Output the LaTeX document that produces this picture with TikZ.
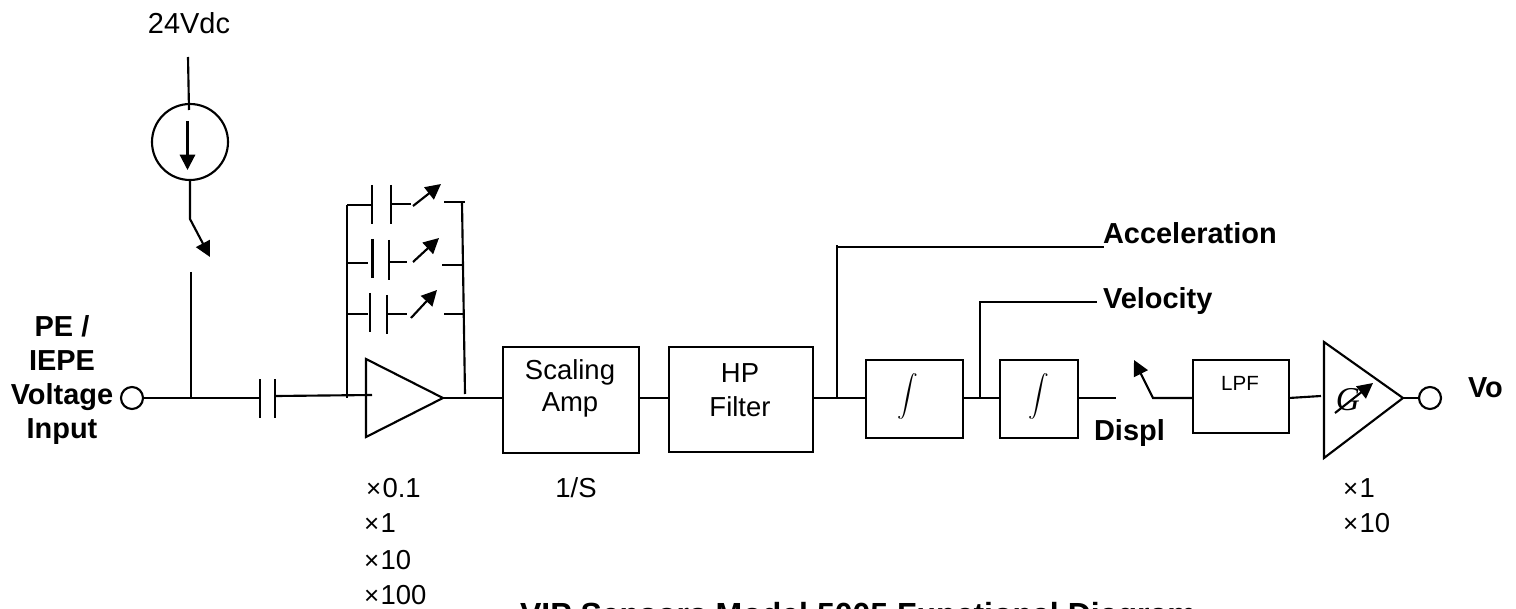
\documentclass[tikz,border=0pt]{standalone}
\usepackage{fontspec}
\setmainfont{Liberation Sans}
\newfontfamily\gainfont{Liberation Serif}
\usetikzlibrary{arrows.meta}
\begin{document}
\begin{tikzpicture}[x=0.75pt,y=-0.75pt,line width=1.6pt]
  \tikzset{lbl/.style={font=\fontsize{20.6}{24}\selectfont, inner sep=0pt}}
  \tikzset{blbl/.style={font=\fontsize{21.7}{26}\selectfont\bfseries, inner sep=0pt}}
  \tikzset{gain/.style={lbl, anchor=west}}
  \tikzset{block/.style={draw, anchor=north west, inner sep=0pt}}
  \tikzset{port/.style={draw, circle, inner sep=0pt, minimum size=16.5pt}}
  \tikzset{sw/.style={-{Triangle[length=11.5pt,width=11.5pt]}}}
  \newcommand{\xmul}{{\fontsize{19.5}{19.5}\selectfont\symbol{"00D7}}\hspace{1pt}}
  \useasboundingbox (0,0) rectangle (1516,609);
  % terminals
  \node[port] (In) at (132,398) {};
  \node[port] (Out) at (1430,398) {};
  \node[draw, circle, inner sep=0pt, minimum size=57pt] (Src) at (190,142) {};
  % blocks
  \node[block, minimum width=102pt, minimum height=79.5pt] (Scale) at (502,346) {};
  \node[block, minimum width=108pt, minimum height=79pt] (HP) at (668,346) {};
  \node[block, minimum width=72.75pt, minimum height=58.5pt] (Int1) at (865,359) {};
  \node[block, minimum width=58.5pt, minimum height=58.5pt] (Int2) at (999,359) {};
  \node[block, minimum width=72pt, minimum height=54.75pt] (LPF) at (1192,359) {};
  % junctions
  \coordinate (j1) at (191,398);
  \coordinate (j4) at (837,398);
  \coordinate (j5) at (980,398);
  % supply and input switch
  \coordinate (t0) at (188,57);
  \coordinate (t1) at (189,110);
  \coordinate (a0) at (187.5,121);
  \coordinate (a1) at (187.5,170);
  \coordinate (k0) at (190,219);
  \coordinate (k1) at (210,257);
  \coordinate (k2) at (191,272);
  \draw (t0) -- (t1);
  \draw[sw] (a0) -- (a1);
  \draw[sw] (Src.south) -- (k0) -- (k1);
  \draw (k2) -- (j1);
  % input coupling cap
  \coordinate (c1) at (260,398);
  \coordinate (c2) at (276,396);
  \draw (In) -- (c1);
  \draw (260,379) -- (260,418);
  \draw (275,379) -- (275,418);
  \draw (c2) -- (372,395);
  % gain network
  \coordinate (b0) at (347,205);
  \coordinate (b1) at (462,202);
  \draw (b0) -- (347,398);
  \draw (b1) -- (465,394);
  \draw (b0) -- (372,205);
  \draw (372,185) -- (372,224);
  \draw (391,185) -- (391,224);
  \draw (391,204) -- (411,204);
  \draw[sw] (413,206) -- (441,184);
  \draw (444,202) -- (465,202);
  \draw (347,263) -- (368,263);
  \draw (372.5,239) -- (372.5,278);
  \draw (389,240) -- (389,280);
  \draw (390,262) -- (407,262);
  \draw[sw] (413,262) -- (439,238);
  \draw (442,265) -- (463,265);
  \draw (347,314) -- (368,314);
  \draw (370,293) -- (370,332);
  \draw (387,295) -- (387,334);
  \draw (387,314) -- (407,314);
  \draw[sw] (411,318) -- (437,290);
  \draw (444,314) -- (463,314);
  % input amp
  \coordinate (A1) at (366,359);
  \coordinate (A2) at (366,437);
  \coordinate (A3) at (443,398);
  \draw (A1) -- (A2) -- (A3) -- cycle;
  \draw (A3) -- (Scale.west |- A3);
  \draw (Scale.east |- A3) -- (HP.west |- A3);
  \draw (HP.east |- A3) -- (Int1.west |- A3);
  \draw (Int1.east |- A3) -- (Int2.west |- A3);
  % outputs
  \coordinate (acc) at (1104,247);
  \coordinate (vel) at (1097,302);
  \coordinate (j4t) at (837,245);
  \draw (j4) -- (j4t);
  \draw (j4 |- acc) -- (acc);
  \draw (j5) -- (j5 |- vel) -- (vel);
  \coordinate (d0) at (1116,398);
  \coordinate (d1) at (1153,398);
  \coordinate (d2) at (1134,360);
  \draw (Int2.east |- d0) -- (d0);
  \draw[sw] (LPF.west |- d1) -- (d1) -- (d2);
  % output amp
  \coordinate (G1) at (1324,342);
  \coordinate (G2) at (1324,458);
  \coordinate (G3) at (1403,398);
  \coordinate (l0) at (1289,398);
  \coordinate (l1) at (1321,396);
  \draw (l0) -- (l1);
  \draw (G1) -- (G2) -- (G3) -- cycle;
  \draw (G3) -- (Out);
  \node[font=\gainfont\itshape\fontsize{25}{25}\selectfont, inner sep=0pt] (Gs) at (1348,400) {G};
  \coordinate (g0) at (1335,413);
  \coordinate (g1) at (1373,383);
  \draw[sw] (g0) -- (g1);
  % labels
  \node[lbl, font=\fontsize{21.7}{26}\selectfont] (vdc) at (189,23) {24Vdc};
  \node[blbl, align=center, font=\fontsize{21.7}{25.5}\selectfont\bfseries] (inp) at (62,380) {PE /\\IEPE\\Voltage\\Input};
  \node[lbl] (sc1) at (570,372) {Scaling};
  \node[lbl] (sc2) at (570,405) {Amp};
  \node[lbl] (hp1) at (740,373) {HP};
  \node[lbl] (hp2) at (740,407) {Filter};
  \node[scale=1.55] (int1) at (908,396) {$\displaystyle\int$};
  \node[scale=1.55] (int2) at (1039,396) {$\displaystyle\int$};
  \node[lbl, font=\fontsize{15.4}{18}\selectfont] (lpf) at (1240,383) {LPF};
  \node[blbl, anchor=west] (acct) at (1102,233) {Acceleration};
  \node[blbl, anchor=west] (velt) at (1102,301) {Velocity};
  \node[blbl, anchor=west] (dis) at (1093,433) {Displ};
  \node[blbl, anchor=west] (vo) at (1467,388) {Vo};
  \node[gain] (g01) at (365,488) {\xmul 0.1};
  \node[gain] (g1x) at (363,523) {\xmul 1};
  \node[gain] (g10) at (363,560) {\xmul 10};
  \node[gain] (g100) at (363,595) {\xmul 100};
  \node[lbl] (ovs) at (576,488) {1/S};
  \node[gain] (o1) at (1342,488) {\xmul 1};
  \node[gain] (o10) at (1342,523) {\xmul 10};
  \node[blbl, anchor=base west, font=\fontsize{24}{26}\selectfont\bfseries] (title) at (519,625) {VIP Sensors Model 5005 Functional Diagram};
\end{tikzpicture}
\end{document}
